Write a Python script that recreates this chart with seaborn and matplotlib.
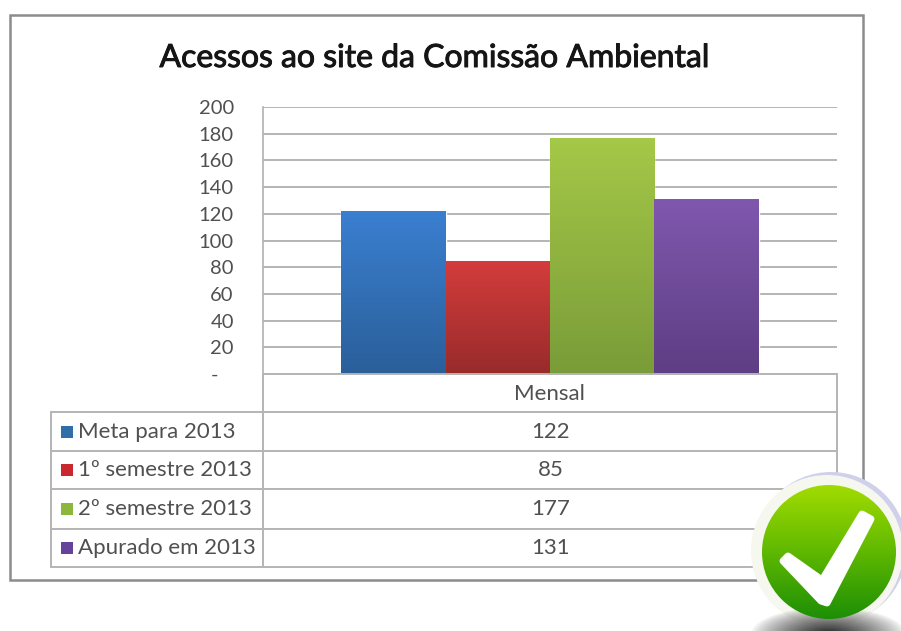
import numpy as np
import pandas as pd
import matplotlib.pyplot as plt
import matplotlib.patheffects as pe
import seaborn as sns
from matplotlib.patches import Circle, Polygon, Rectangle
from matplotlib.colors import LinearSegmentedColormap

series = ['Meta para 2013', '1º semestre 2013', '2º semestre 2013', 'Apurado em 2013']
values = [122, 85, 177, 131]
category = 'Mensal'
ticks = [0, 20, 40, 60, 80, 100, 120, 140, 160, 180, 200]
tick_labels = ['-   ', '20', '40', '60', '80', '100', '120', '140', '160', '180', '200']
title = 'Acessos ao site da Comissão Ambiental'

top_colors = ['#3B7FD0', '#D43C3C', '#A4C847', '#7F58AE']
bottom_colors = ['#2A5F9A', '#992B2B', '#7A9C39', '#5E3E84']
legend_colors = ['#2F6EA8', '#C8282E', '#8DB63C', '#66439A']

W, H = 901, 631
LINE = '#b4b4b4'
TEXT = '#505050'

sns.set_theme(style='white')
plt.rcParams['font.family'] = ['Lato', 'DejaVu Sans']

fig = plt.figure(figsize=(W / 100, H / 100), dpi=100)
ax = fig.add_axes([263 / W, 1 - 374 / H, (837 - 263) / W, (374 - 107) / H])

df = pd.DataFrame({'cat': [category] * 4, 'serie': series, 'valor': values})
sns.barplot(data=df, x='cat', y='valor', hue='serie', hue_order=series,
            palette=top_colors, width=0.727, gap=0, legend=False, ax=ax, zorder=2)

ax.set_xlim(-0.5, 0.5)
ax.set_ylim(0, 200)
ax.set_xlabel('')
ax.set_ylabel('')
ax.set_xticks([])
ax.set_yticks(ticks)
ax.set_yticklabels(tick_labels, fontsize=14.5, color=TEXT)
ax.tick_params(axis='y', length=0, pad=21)
ax.grid(axis='y', color=LINE, lw=1.4)
ax.set_axisbelow(True)
for s in ['top', 'right', 'bottom']:
    ax.spines[s].set_visible(False)
ax.spines['left'].set_color(LINE)
ax.patch.set_alpha(0)

# vertical gradient on the bars
bars = [p for p in ax.patches if p.get_height() > 0]
for p, c1, c2 in zip(bars, top_colors, bottom_colors):
    cmap = LinearSegmentedColormap.from_list('g', [c1, c2])
    x0, w, h = p.get_x(), p.get_width(), p.get_height()
    im = ax.imshow(np.linspace(0, 1, 64).reshape(-1, 1), cmap=cmap, aspect='auto',
                   extent=(x0, x0 + w, 0, h), zorder=3)
    im.set_clip_path(p)
ax.set_xlim(-0.5, 0.5)
ax.set_ylim(0, 200)

# overlay in picture pixels: frame, data table, check icon
ov = fig.add_axes([0, 0, 1, 1], zorder=5)
ov.set_xlim(0, W)
ov.set_ylim(H, 0)
ov.axis('off')

ov.add_patch(Rectangle((10, 15), 853, 565, fill=False, ec='#8c8c8c', lw=1.8))
fig.text(435 / W, 1 - 58 / H, title, ha='center', va='center', fontsize=23, color='#151515',
         path_effects=[pe.withStroke(linewidth=0.7, foreground='#151515')])

row_edges = [374, 412, 451, 489, 529, 567]
ov.plot([263, 837], [374, 374], color=LINE, lw=1.4)
for y in row_edges[1:]:
    ov.plot([51, 837], [y, y], color=LINE, lw=1.4)
ov.plot([51, 51], [412, 567], color=LINE, lw=1.4)
ov.plot([263, 263], [374, 567], color=LINE, lw=1.4)
ov.plot([837, 837], [374, 567], color=LINE, lw=1.4)

ov.text(549, 394, category, ha='center', va='center', fontsize=16, color=TEXT)
for i, (name, val, col) in enumerate(zip(series, values, legend_colors)):
    yc = (row_edges[i + 1] + row_edges[i + 2]) / 2
    ov.add_patch(Rectangle((61, yc - 6), 12, 12, fc=col, ec='none'))
    ov.text(78, yc, name, ha='left', va='center', fontsize=16, color=TEXT)
    ov.text(551, yc, str(val), ha='center', va='center', fontsize=16, color=TEXT)

# check icon
ov.add_patch(Circle((831, 548), 76, fc='#cfd0ea', ec='none', zorder=7))
ov.add_patch(Circle((827, 551), 76, fc='#f6f8f0', ec='none', zorder=8))

# soft shadow under the icon
yy, xx = np.mgrid[600:631, 750:901]
dist = np.sqrt(((xx - 828) / 68) ** 2 + ((yy - 634) / 24) ** 2)
shade = np.zeros(dist.shape + (4,))
shade[..., :3] = 0.22
shade[..., 3] = np.clip(1.15 - dist, 0, 1) ** 0.8
ov.imshow(shade, aspect='auto', extent=(750, 901, 631, 600), origin='upper', zorder=8.5)

disc = Circle((829, 552), 67, fc='none', ec='none', zorder=9)
ov.add_patch(disc)
green = LinearSegmentedColormap.from_list('g', ['#a2dc00', '#5fb800', '#1c8e06'])
im = ov.imshow(np.linspace(0, 1, 128).reshape(-1, 1), cmap=green, aspect='auto',
               extent=(760, 898, 620, 484), origin='upper', zorder=9)
im.set_clip_path(disc)
ov.add_patch(Polygon([(783, 561), (788, 556), (822, 580), (862, 514), (871, 519),
                      (827, 603), (821, 601)],
                     closed=True, fc='white', ec='white', lw=5, joinstyle='round', zorder=10))
ov.set_xlim(0, W)
ov.set_ylim(H, 0)

plt.savefig('out.png', dpi=100)
